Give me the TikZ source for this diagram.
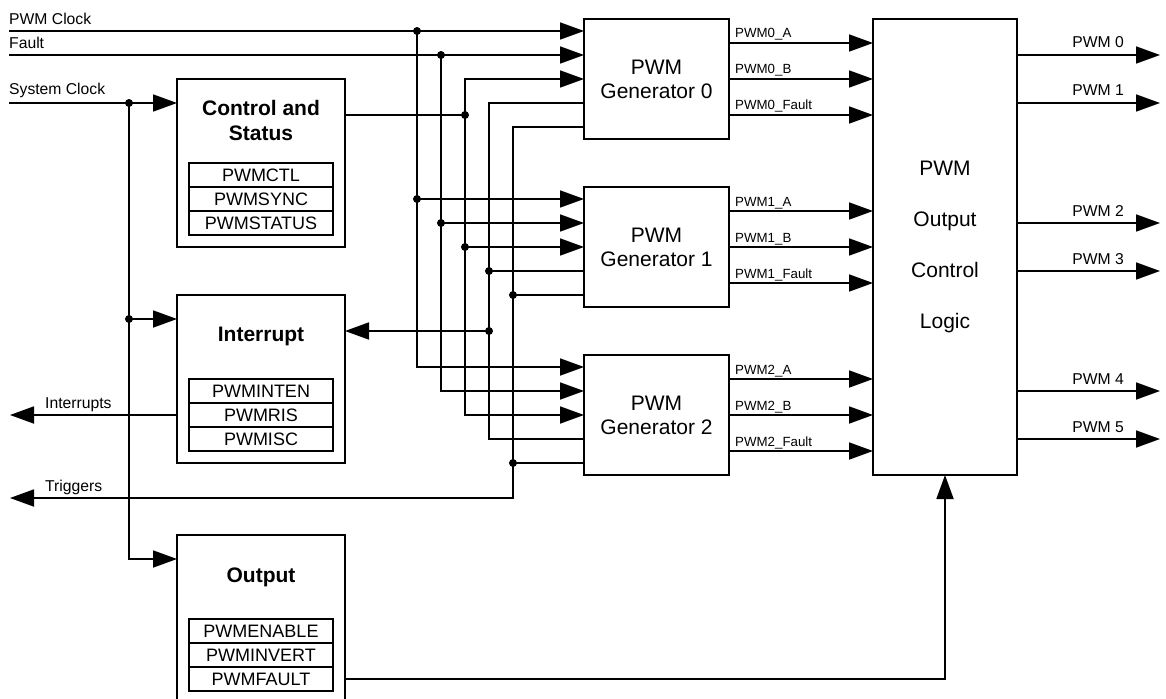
\documentclass[tikz,border=0pt]{standalone}
\usepackage{fontspec}
\setmainfont{Liberation Sans}
\usetikzlibrary{arrows.meta,calc,positioning}
\definecolor{pwmInk}{HTML}{000000}
\tikzset{
 blockdia/.style={line cap=butt,line join=miter,text=pwmInk},
 wire/.style={draw=pwmInk,line width=1.8pt},
 sig/.style={wire,-{Triangle[length=24pt,width=17pt]}},
 joint/.style={circle,fill=pwmInk,inner sep=0pt,minimum size=8pt},
 ublock/.style={draw=pwmInk,fill=white,line width=1.8pt,inner sep=0pt,outer sep=0pt,minimum width=168pt,minimum height=168pt},
 utitle/.style={font=\fontsize{21}{25}\selectfont\bfseries,align=center,inner sep=0pt},
 reg/.style={draw=pwmInk,line width=1.8pt,inner sep=0pt,outer sep=0pt,minimum width=144pt,minimum height=24pt,font=\fontsize{18}{18}\selectfont},
 gen/.style={draw=pwmInk,line width=1.8pt,inner sep=0pt,outer sep=0pt,minimum width=145pt,minimum height=120pt,align=center,font=\fontsize{21}{24}\selectfont},
 logic/.style={gen,minimum width=144pt,minimum height=456pt,font=\fontsize{21}{51}\selectfont},
 pinlabel/.style={font=\fontsize{15.7}{18}\selectfont,inner sep=0pt},
 portlabel/.style={font=\fontsize{13.3}{15}\selectfont,inner sep=0pt,anchor=base west}
}
\newcommand{\regStack}[4]{%
 \node[reg,anchor=north] (#1r1) at ([yshift=-84pt]#1.north) {#2};
 \node[reg,below=0pt of #1r1] (#1r2) {#3};
 \node[reg,below=0pt of #1r2] (#1r3) {#4};}

\begin{document}
\begin{tikzpicture}[blockdia,x=1pt,y=-1pt]
 \useasboundingbox (0,0) rectangle (1166,698);
 % register blocks on the left
 \node[ublock,anchor=north west] (ctrl) at (177,79) {};
 \node[ublock,anchor=north west] (intr) at (177,295) {};
 \node[ublock,anchor=north west] (outb) at (177,535) {};
 \node[utitle] (ctrlT) at ([yshift=-41pt]ctrl.north) {Control and\\Status};
 \node[utitle] (intrT) at ([yshift=-41pt]intr.north) {Interrupt};
 \node[utitle] (outbT) at ([yshift=-42pt]outb.north) {Output};
 \regStack{ctrl}{PWMCTL}{PWMSYNC}{PWMSTATUS}
 \regStack{intr}{PWMINTEN}{PWMRIS}{PWMISC}
 \regStack{outb}{PWMENABLE}{PWMINVERT}{PWMFAULT}
 % generators and output logic
 \node[gen,anchor=north west] (g0) at (584,19) {PWM\\Generator 0};
 \node[gen,below=48pt of g0] (g1) {PWM\\Generator 1};
 \node[gen,below=48pt of g1] (g2) {PWM\\Generator 2};
 \node[logic,anchor=north west] (lg) at (873,19) {PWM\\Output\\Control\\Logic};
 % ports and rails
 \foreach \g in {0,1,2}
  \foreach \k in {1,...,5}
   \coordinate (gi\g\k) at ([yshift={12pt-24pt*\k}]g\g.north west);
 \foreach \r/\x in {0/129,1/417,2/441,3/465,4/489,5/513}
  \coordinate (r\r) at (\x,0);
 \coordinate (clkin) at (9,31);
 \coordinate (fltin) at (9,55);
 \coordinate (sysin) at (9,103);
 \coordinate (lout) at (10,0);
 \coordinate (rtip) at (1160,0);
 \coordinate (ctrlout) at ([yshift=-36pt]ctrl.north east);
 \coordinate (intrin) at ([yshift=-36pt]intr.north east);
 \coordinate (intrclk) at ([yshift=-24pt]intr.north west);
 \coordinate (outbclk) at ([yshift=-24pt]outb.north west);
 \coordinate (irqout) at ([yshift=-120pt]intr.north west);
 \coordinate (fltout) at ([yshift=-144pt]outb.north east);
 \coordinate (trgout) at (10,498);
 % PWM clock and fault
 \draw[sig] (clkin) -- (gi01);
 \draw[sig] (gi01 -| r1) |- (gi11);
 \draw[sig] (gi01 -| r1) |- (gi21);
 \draw[sig] (fltin) -- (gi02);
 \draw[sig] (gi02 -| r2) |- (gi12);
 \draw[sig] (gi02 -| r2) |- (gi22);
 % control and status
 \draw[wire] (ctrlout) -- (ctrlout -| r3);
 \draw[sig] (ctrlout -| r3) |- (gi03);
 \draw[sig] (ctrlout -| r3) |- (gi13);
 \draw[sig] (ctrlout -| r3) |- (gi23);
 % interrupt rail
 \draw[wire] (gi04) -- (gi04 -| r4) -- (gi24 -| r4) -- (gi24);
 \draw[wire] (gi14) -- (gi14 -| r4);
 \draw[sig] (intrin -| r4) -- (intrin);
 % trigger rail
 \draw[sig] (gi05) -- (gi05 -| r5) -- (trgout -| r5) -- (trgout);
 \draw[wire] (gi15) -- (gi15 -| r5);
 \draw[wire] (gi25) -- (gi25 -| r5);
 % system clock
 \draw[sig] (sysin) -- (sysin -| ctrl.west);
 \draw[sig] (sysin -| r0) |- (intrclk);
 \draw[sig] (sysin -| r0) |- (outbclk);
 \draw[sig] (irqout) -- (irqout -| lout);
 \draw[sig] (fltout) -| (lg.south);
 % junctions
 \node[joint] (j01) at (gi01 -| r1) {};
 \node[joint] (j11) at (gi11 -| r1) {};
 \node[joint] (j02) at (gi02 -| r2) {};
 \node[joint] (j12) at (gi12 -| r2) {};
 \node[joint] (jc3) at (ctrlout -| r3) {};
 \node[joint] (j13) at (gi13 -| r3) {};
 \node[joint] (j14) at (gi14 -| r4) {};
 \node[joint] (ji4) at (intrin -| r4) {};
 \node[joint] (j15) at (gi15 -| r5) {};
 \node[joint] (j25) at (gi25 -| r5) {};
 \node[joint] (js0) at (sysin -| r0) {};
 \node[joint] (ji0) at (intrclk -| r0) {};
 % generator outputs
 \foreach \g in {0,1,2}
  \foreach \k/\nm/\dy in {1/A/24pt,2/B/60pt,3/Fault/96pt}{
   \coordinate (go\g\k) at ([yshift=-\dy]g\g.north east);
   \draw[sig] (go\g\k) -- (go\g\k -| lg.west);
   \node[portlabel] (pl\g\k) at ($(go\g\k)+(6,-5)$) {PWM\g\_\nm};
  }
 % PWM pins
 \foreach \k/\dy in {0/36pt,1/84pt,2/204pt,3/252pt,4/372pt,5/420pt}{
  \coordinate (lo\k) at ([yshift=-\dy]lg.north east);
  \draw[sig] (lo\k) -- (lo\k -| rtip);
  \node[pinlabel,anchor=base east] (ol\k) at ($(lo\k -| rtip)+(-36,-7)$) {PWM \k};
 }
 % signal names
 \node[pinlabel,anchor=base west] (clkL) at ($(clkin)+(0,-6)$) {PWM Clock};
 \node[pinlabel,anchor=base west] (fltL) at ($(fltin)+(0,-6)$) {Fault};
 \node[pinlabel,anchor=base west] (sysL) at ($(sysin)+(0,-8)$) {System Clock};
 \node[pinlabel,anchor=base west] (irqL) at ($(irqout -| lout)+(35,-7)$) {Interrupts};
 \node[pinlabel,anchor=base west] (trgL) at ($(trgout)+(35,-7)$) {Triggers};
\end{tikzpicture}
\end{document}
